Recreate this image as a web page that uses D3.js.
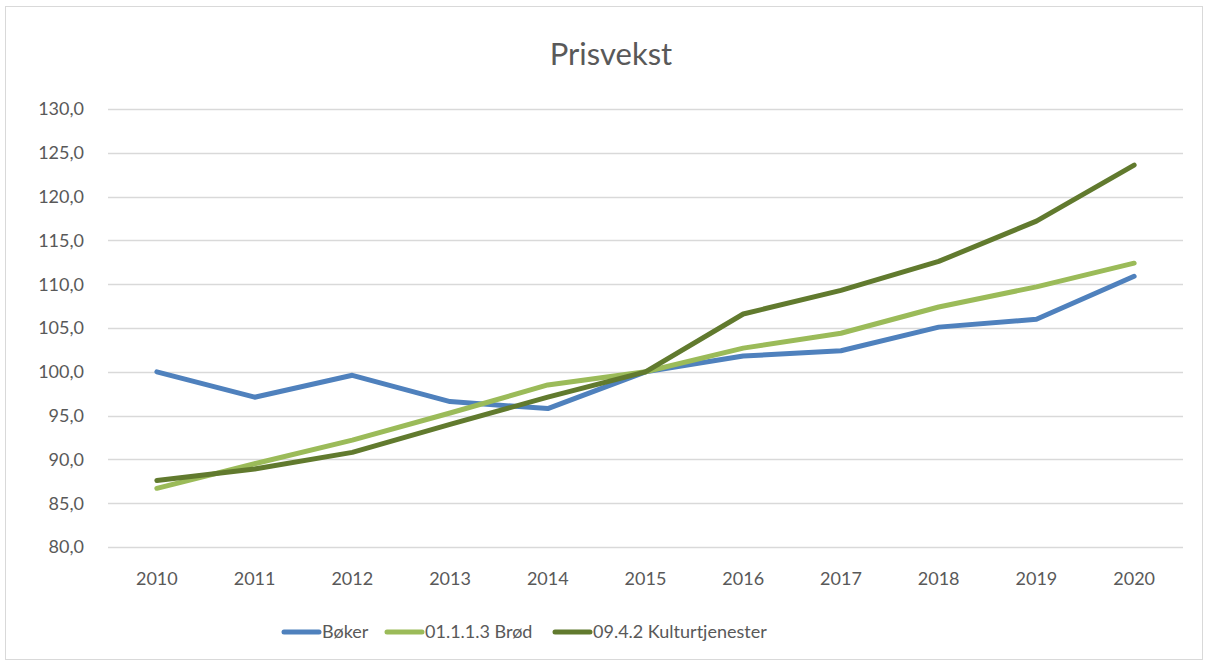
<!DOCTYPE html>
<html>
<head>
<meta charset="utf-8">
<script src="https://cdn.jsdelivr.net/npm/d3@7"></script>
<style>
  body { margin: 0; background: #fff; }
  text { font-family: Lato, "Noto Sans", sans-serif; fill: #595959; }
</style>
</head>
<body>
<div id="wrapper"></div>
<script>
const width = 1209
const height = 666

// data
const years = ["2010", "2011", "2012", "2013", "2014", "2015", "2016", "2017", "2018", "2019", "2020"]
const boker = [100.0, 97.1, 99.6, 96.6, 95.8, 100.0, 101.8, 102.4, 105.1, 106.0, 110.9]
const brod = [86.7, 89.5, 92.2, 95.3, 98.5, 100.0, 102.7, 104.4, 107.4, 109.7, 112.4]
const kultur = [87.6, 88.9, 90.8, 94.0, 97.1, 100.0, 106.6, 109.3, 112.6, 117.2, 123.6]
const seriesNames = ["Bøker", "01.1.1.3 Brød", "09.4.2 Kulturtjenester"]
const yTicks = [80, 85, 90, 95, 100, 105, 110, 115, 120, 125, 130]

const colors = ["#4F81BD", "#9BBB59", "#617A2E"]
const series = [boker, brod, kultur]

const margin = { top: 109, right: 26, bottom: 119, left: 108 }

const svg = d3.select("#wrapper").append("svg")
    .attr("width", width)
    .attr("height", height)

// chart border
svg.append("rect")
    .attr("x", 5.5).attr("y", 6.5)
    .attr("width", 1197).attr("height", 653)
    .attr("fill", "#fff")
    .attr("stroke", "#d9d9d9")

svg.append("text")
    .attr("x", 611)
    .attr("y", 65)
    .attr("text-anchor", "middle")
    .style("font-size", "31px")
    .text("Prisvekst")

const x = d3.scaleBand()
    .domain(years)
    .range([margin.left, width - margin.right])

const y = d3.scaleLinear()
    .domain([80, 130])
    .range([height - margin.bottom, margin.top])

// grid
svg.append("g")
    .selectAll("line")
    .data(yTicks)
    .join("line")
    .attr("x1", margin.left)
    .attr("x2", width - margin.right)
    .attr("y1", d => Math.round(y(d)) + 0.5)
    .attr("y2", d => Math.round(y(d)) + 0.5)
    .attr("stroke", "#d9d9d9")
    .attr("stroke-width", 1.5)

// y labels
const fmt = d => d3.format(".1f")(d).replace(".", ",")
svg.append("g")
    .selectAll("text")
    .data(yTicks)
    .join("text")
    .attr("x", 84)
    .attr("y", d => y(d))
    .attr("dy", "0.35em")
    .attr("text-anchor", "end")
    .style("font-size", "18px")
    .text(fmt)

// x labels
svg.append("g")
    .selectAll("text")
    .data(years)
    .join("text")
    .attr("x", d => x(d) + x.bandwidth() / 2)
    .attr("y", 585)
    .attr("text-anchor", "middle")
    .style("font-size", "18px")
    .text(d => d)

const line = d3.line()
    .x((d, i) => x(years[i]) + x.bandwidth() / 2)
    .y(d => y(d))

svg.append("g")
    .selectAll("path")
    .data(series)
    .join("path")
    .attr("d", line)
    .attr("fill", "none")
    .attr("stroke", (d, i) => colors[i])
    .attr("stroke-width", 5)
    .attr("stroke-linejoin", "round")
    .attr("stroke-linecap", "round")

// legend
const legendX = [282, 385, 553]
const legend = svg.append("g")
    .selectAll("g")
    .data(seriesNames)
    .join("g")
    .attr("transform", (d, i) => `translate(${legendX[i]},632)`)

legend.append("line")
    .attr("x1", 2).attr("x2", 37)
    .attr("stroke", (d, i) => colors[i])
    .attr("stroke-width", 5)
    .attr("stroke-linecap", "round")

legend.append("text")
    .attr("x", 40)
    .attr("dy", "0.35em")
    .style("font-size", "18px")
    .text(d => d)
</script>
</body>
</html>
